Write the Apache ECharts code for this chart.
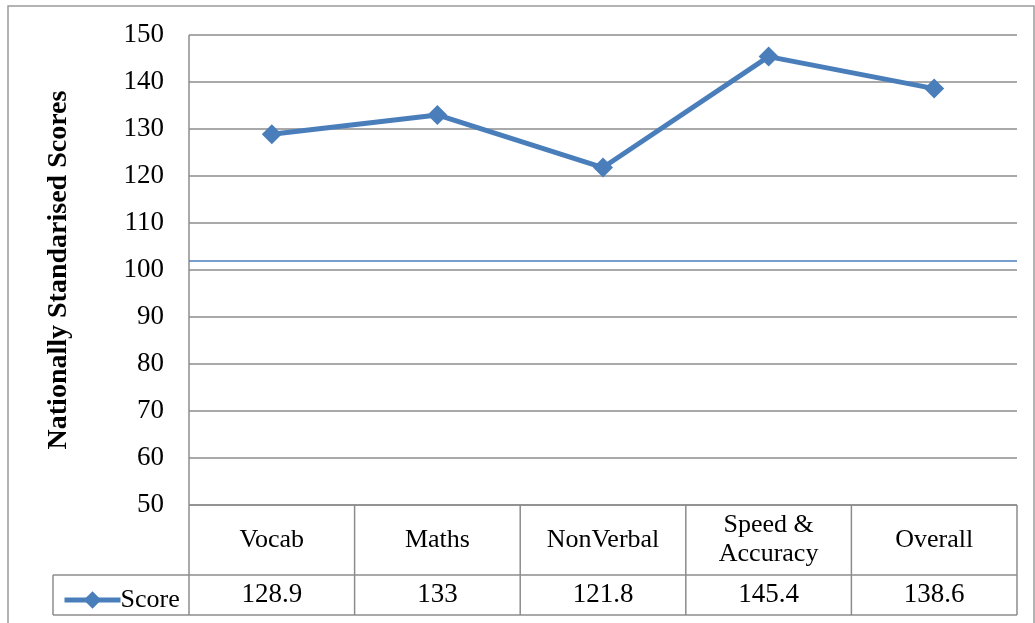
<!DOCTYPE html>
<html>
<head>
<meta charset="utf-8">
<script src="https://cdn.jsdelivr.net/npm/echarts@6/dist/echarts.min.js"></script>
<style>
  html, body { margin: 0; padding: 0; background: #fff; }
  #main { width: 1035px; height: 623px; }
</style>
</head>
<body>
<div id="main"></div>
<script>
// data
var categories = ['Vocab', 'Maths', 'NonVerbal', 'Speed &\nAccuracy', 'Overall'];
var scores = [128.9, 133, 121.8, 145.4, 138.6];
var refLine = 102;
var yTicks = { min: 50, max: 150, interval: 10 };

var FONT = 'Liberation Serif';
var GRAY = '#8c8c8c';
var BLUE = '#4a7ebb';

// plot area / table geometry
var L = 189, R = 1017, T = 35, B = 505;
var row1 = 575, row2 = 615, legendLeft = 53;

var chart = echarts.init(document.getElementById('main'));

function tableLines() {
  var g = [];
  var colW = (R - L) / categories.length;
  function line(x1, y1, x2, y2) {
    g.push({ type: 'line', shape: { x1: x1, y1: y1, x2: x2, y2: y2 },
      style: { stroke: GRAY, lineWidth: 1.5 }, silent: true });
  }
  // outer chart border
  g.push({ type: 'rect', shape: { x: 8, y: 6, width: 1026, height: 640 },
    style: { fill: null, stroke: '#9a9a9a', lineWidth: 1.5 }, silent: true, z: -1 });
  line(L, T, L, row2);
  line(L, B, R, B);
  line(legendLeft, row1, R, row1);
  line(legendLeft, row2, R, row2);
  line(legendLeft, row1, legendLeft, row2);
  for (var i = 1; i <= categories.length; i++) {
    line(L + colW * i, B, L + colW * i, row2);
  }
  return g;
}

var option = {
  backgroundColor: '#ffffff',
  animation: false,
  grid: { left: L, right: 1035 - R, top: T, bottom: 623 - B, containLabel: false },
  legend: {
    left: 57, top: 582,
    itemWidth: 56, itemHeight: 22, itemGap: 4,
    lineStyle: { width: 5 },
    textStyle: { fontFamily: FONT, fontSize: 26, color: '#000', padding: [0, 0, 0, -5] },
    data: ['Score']
  },
  xAxis: [
    {
      type: 'category',
      data: categories,
      boundaryGap: true,
      axisLine: { show: false },
      axisTick: { show: false },
      splitLine: { show: false },
      axisLabel: {
        margin: 35, verticalAlign: 'middle', lineHeight: 29,
        fontFamily: FONT, fontSize: 26, color: '#000', interval: 0
      }
    },
    {
      type: 'category',
      position: 'bottom',
      data: scores.map(function (v) { return String(v); }),
      boundaryGap: true,
      axisLine: { show: false },
      axisTick: { show: false },
      axisLabel: {
        margin: 90, verticalAlign: 'middle',
        fontFamily: FONT, fontSize: 27, color: '#000', interval: 0
      }
    }
  ],
  yAxis: {
    type: 'value',
    min: yTicks.min, max: yTicks.max, interval: yTicks.interval,
    name: 'Nationally Standarised Scores',
    nameLocation: 'middle',
    nameGap: 116,
    nameTextStyle: { fontFamily: FONT, fontSize: 28, fontWeight: 'bold', color: '#000' },
    axisLine: { show: false },
    axisTick: { show: false },
    axisLabel: { margin: 25, fontFamily: FONT, fontSize: 27, color: '#000' },
    splitLine: { lineStyle: { color: GRAY, width: 1.5 } }
  },
  series: [{
    name: 'Score',
    type: 'line',
    data: scores,
    color: BLUE,
    symbol: 'diamond',
    symbolSize: 20,
    lineStyle: { width: 5, color: BLUE },
    itemStyle: { color: BLUE },
    markLine: {
      silent: true,
      symbol: ['none', 'none'],
      label: { show: false },
      lineStyle: { type: 'solid', color: BLUE, width: 1.5 },
      data: [{ yAxis: refLine }]
    }
  }],
  graphic: tableLines()
};

chart.setOption(option);
</script>
</body>
</html>
